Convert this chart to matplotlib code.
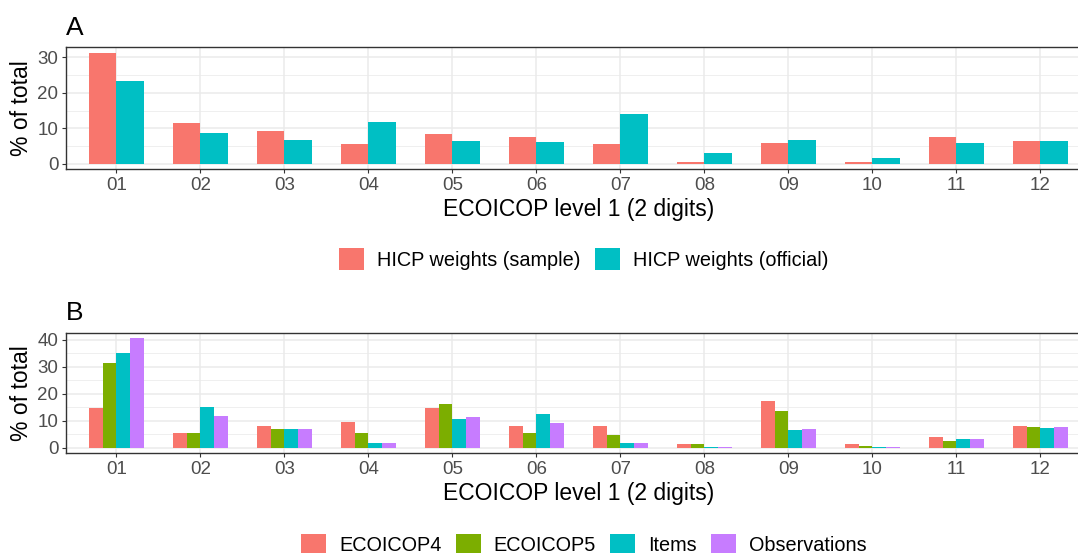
import matplotlib
matplotlib.use("Agg")
import matplotlib.pyplot as plt
import numpy as np

plt.rcParams.update({
    "font.family": ["Liberation Sans", "DejaVu Sans"],
    "font.size": 13,
})

# ECOICOP level 1 divisions
codes = ["01", "02", "03", "04", "05", "06", "07", "08", "09", "10", "11", "12"]

# panel A: HICP weights, % of total
hicp_sample = [31.3, 11.5, 9.2, 5.6, 8.4, 7.5, 5.6, 0.5, 5.8, 0.5, 7.5, 6.4]
hicp_official = [23.4, 8.7, 6.7, 11.8, 6.4, 6.1, 14.1, 3.0, 6.7, 1.6, 5.8, 6.4]
labels_a = ["HICP weights (sample)", "HICP weights (official)"]

# panel B: coverage shares, % of total
ecoicop4 = [14.6, 5.4, 8.0, 9.4, 14.6, 8.0, 8.0, 1.3, 17.5, 1.3, 3.9, 8.0]
ecoicop5 = [31.4, 5.4, 6.9, 5.4, 16.4, 5.4, 4.6, 1.3, 13.8, 0.6, 2.4, 7.6]
items = [35.1, 15.3, 6.9, 1.7, 10.5, 12.4, 1.7, 0.2, 6.5, 0.2, 3.2, 7.2]
observations = [40.6, 11.6, 6.9, 1.7, 11.3, 9.1, 1.7, 0.2, 6.9, 0.2, 3.2, 7.6]
labels_b = ["ECOICOP4", "ECOICOP5", "Items", "Observations"]

COLS2 = ["#F8766D", "#00BFC4"]
COLS4 = ["#F8766D", "#7CAE00", "#00BFC4", "#C77CFF"]
GRID, BORDER, TICK = "#EBEBEB", "#333333", "#4D4D4D"
W, H = 1078, 553


def dodge_bars(ax, series, colors, labels, width=0.65):
    x = np.arange(len(codes))
    n = len(series)
    w = width / n
    handles = []
    for i, (vals, c, lab) in enumerate(zip(series, colors, labels)):
        off = -width / 2 + w * (i + 0.5)
        handles.append(ax.bar(x + off, vals, w, color=c, label=lab, zorder=3, linewidth=0))
    return handles


def style(ax, ymax, letter):
    ax.set_xlim(-0.6, len(codes) - 0.4)
    ax.set_ylim(-ymax * 0.05, ymax * 1.05)
    ax.set_xticks(np.arange(len(codes)))
    ax.set_xticklabels(codes)
    major = np.arange(0, ymax + 0.1, 10)
    ax.set_yticks(major)
    for y in major:
        ax.axhline(y, color=GRID, lw=1.1, zorder=1)
    for y in major + 5:
        if y < ymax * 1.05:
            ax.axhline(y, color=GRID, lw=0.55, zorder=1)
    for xv in range(len(codes)):
        ax.axvline(xv, color=GRID, lw=1.1, zorder=1)
    for s in ax.spines.values():
        s.set_color(BORDER)
        s.set_linewidth(1.0)
    ax.tick_params(colors=BORDER, labelcolor=TICK, labelsize=13.5, length=3, width=0.8, pad=2.5)
    ax.set_xlabel("ECOICOP level 1 (2 digits)", fontsize=16.5, labelpad=3)
    ax.set_ylabel("% of total", fontsize=16.5, labelpad=3)
    ax.set_title(letter, loc="left", fontsize=19, pad=9)


fig = plt.figure(figsize=(W / 100, H / 100), dpi=100)
ax_a = fig.add_axes([66 / W, 1 - 169.3 / H, (1090.7 - 66) / W, (169.3 - 47.3) / H])
ax_b = fig.add_axes([66 / W, 1 - 453.3 / H, (1090.7 - 66) / W, (453.3 - 332.7) / H])

ha = dodge_bars(ax_a, [hicp_sample, hicp_official], COLS2, labels_a)
style(ax_a, 31.3, "A")
hb = dodge_bars(ax_b, [ecoicop4, ecoicop5, items, observations], COLS4, labels_b)
style(ax_b, 40.6, "B")

leg_kw = dict(frameon=False, fontsize=14.3, handlelength=1.26, handleheight=1.26,
              handletextpad=0.65, columnspacing=0.72, loc="center", borderaxespad=0)
fig.legend(handles=ha, labels=labels_a, ncol=2, bbox_to_anchor=(584 / W, 1 - 259 / H), **leg_kw)
fig.legend(handles=hb, labels=labels_b, ncol=4, bbox_to_anchor=(584 / W, 1 - 544.5 / H), **leg_kw)

fig.savefig("out.png", dpi=100)
